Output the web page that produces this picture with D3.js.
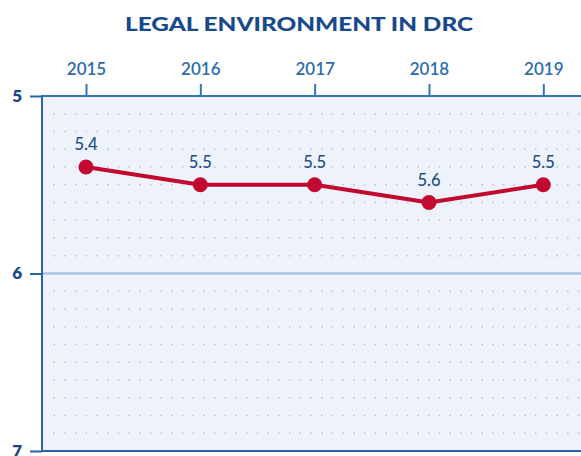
<!DOCTYPE html>
<html>
<head>
<meta charset="utf-8">
<script src="https://cdn.jsdelivr.net/npm/d3@7/dist/d3.min.js"></script>
<style>
  html, body { margin: 0; padding: 0; background: #ffffff; }
  svg { display: block; }
</style>
</head>
<body>
<svg id="chart" width="581" height="456"></svg>
<script>
const title = "LEGAL ENVIRONMENT IN DRC";
const years = ["2015", "2016", "2017", "2018", "2019"];
const scores = [5.4, 5.5, 5.5, 5.6, 5.5];
const yTicks = [5, 6, 7];

const svg = d3.select("#chart");
const plot = { left: 42, right: 581, top: 96, bottom: 451 };

const x = d3.scalePoint().domain(years).range([86, 543.3]);
const y = d3.scaleLinear().domain([5, 7]).range([plot.top, plot.bottom]);

// background
svg.append("rect")
  .attr("x", plot.left).attr("y", plot.top)
  .attr("width", plot.right - plot.left).attr("height", plot.bottom - plot.top)
  .attr("fill", "#eef3fb");

// dotted grid rows every 0.1
const gridVals = d3.range(51, 70).map(v => v / 10).filter(v => Math.abs(v - 6) > 1e-6);
svg.append("g").selectAll("line").data(gridVals).join("line")
  .attr("x1", 53.5).attr("x2", plot.right)
  .attr("y1", d => y(d)).attr("y2", d => y(d))
  .attr("stroke", "#b3c2d8").attr("stroke-width", 1.5)
  .attr("stroke-dasharray", "1.5 9.2");

// solid line at 6
svg.append("line")
  .attr("x1", plot.left).attr("x2", plot.right)
  .attr("y1", y(6)).attr("y2", y(6))
  .attr("stroke", "#a9c5e4").attr("stroke-width", 2.5);

// top axis
const xAxis = d3.axisTop(x).tickSize(12).tickPadding(9);
const gx = svg.append("g").attr("transform", `translate(0,${plot.top})`).call(xAxis);
gx.select(".domain").remove();
gx.selectAll(".tick line").attr("stroke", "#3575b3").attr("stroke-width", 2);
gx.selectAll(".tick text")
  .attr("fill", "#2d6cac")
  .style("font-family", "Lato, 'Open Sans', sans-serif")
  .style("font-size", "17px")
  .style("font-weight", "600");
svg.append("line")
  .attr("x1", plot.left).attr("x2", plot.right)
  .attr("y1", plot.top).attr("y2", plot.top)
  .attr("stroke", "#3575b3").attr("stroke-width", 2);

// bottom line at 7
svg.append("line")
  .attr("x1", plot.left).attr("x2", plot.right)
  .attr("y1", plot.bottom).attr("y2", plot.bottom)
  .attr("stroke", "#2b65a3").attr("stroke-width", 2);

// left axis
const yAxis = d3.axisLeft(y).tickValues(yTicks).tickSize(12).tickPadding(8).tickFormat(d3.format("d"));
const gy = svg.append("g").attr("transform", `translate(${plot.left},0)`).call(yAxis);
gy.select(".domain").remove();
gy.selectAll(".tick line").attr("stroke", "#2b65a3").attr("stroke-width", 2);
gy.selectAll(".tick text")
  .attr("fill", "#1b4882")
  .style("font-family", "Lato, 'Open Sans', sans-serif")
  .style("font-size", "17px")
  .style("font-weight", "800");
svg.append("line")
  .attr("x1", plot.left).attr("x2", plot.left)
  .attr("y1", plot.top - 1).attr("y2", plot.bottom + 1)
  .attr("stroke", "#2b65a3").attr("stroke-width", 2);

// line
const data = years.map((yr, i) => ({ yr, v: scores[i] }));
svg.append("path").datum(data)
  .attr("fill", "none").attr("stroke", "#c20a30").attr("stroke-width", 4)
  .attr("stroke-linejoin", "round")
  .attr("d", d3.line().x(d => x(d.yr)).y(d => y(d.v)));

svg.append("g").selectAll("circle").data(data).join("circle")
  .attr("cx", d => x(d.yr)).attr("cy", d => y(d.v)).attr("r", 7.5)
  .attr("fill", "#c20a30");

svg.append("g").selectAll("text").data(data).join("text")
  .attr("x", d => x(d.yr)).attr("y", d => y(d.v) - 17)
  .attr("text-anchor", "middle")
  .attr("fill", "#1f4e86")
  .style("font-family", "Lato, 'Open Sans', sans-serif")
  .style("font-size", "16.5px")
  .style("font-weight", "500")
  .text(d => d3.format(".1f")(d.v));

// title
svg.append("text")
  .attr("x", 299).attr("y", 31)
  .attr("text-anchor", "middle")
  .attr("fill", "#174a8c")
  .attr("textLength", 348)
  .attr("lengthAdjust", "spacingAndGlyphs")
  .style("font-family", "Lato, 'Open Sans', sans-serif")
  .style("font-size", "19px")
  .style("font-weight", "900")
  .text(title);
</script>
</body>
</html>
